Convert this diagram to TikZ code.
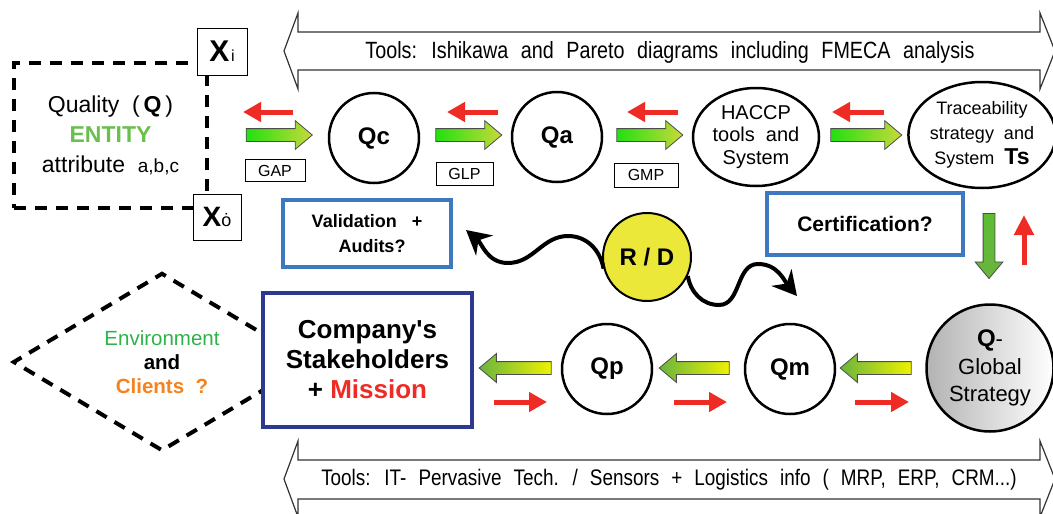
\documentclass[tikz,border=0pt]{standalone}
\usepackage{fontspec}
\setmainfont{Liberation Sans}
\newfontfamily\bandfont[FakeStretch=0.84,WordSpace=2.3]{Liberation Sans}
\usetikzlibrary{shapes.geometric,shapes.arrows,arrows.meta}

\definecolor{qred}{HTML}{EE2B24}
\definecolor{qblue}{HTML}{3E78BF}
\definecolor{qnavy}{HTML}{2B3A8F}
\definecolor{qlime}{HTML}{22E011}
\definecolor{qolive}{HTML}{C9D93A}
\definecolor{qleaf}{HTML}{6AB43E}
\definecolor{qyellow}{HTML}{EEF200}
\definecolor{qentity}{HTML}{6BBF4E}
\definecolor{qenv}{HTML}{2FB24A}
\definecolor{qorange}{HTML}{F5821F}
\definecolor{qsun}{HTML}{ECE83A}

\newcommand{\qfs}[2]{\fontsize{#1}{#2}\selectfont}

\tikzset{
  qcircle/.style={circle, draw, line width=2.5pt, minimum size=90pt, inner sep=0pt, font=\qfs{24}{26}\bfseries},
  qellipse/.style={ellipse, draw, line width=2.5pt, inner sep=0pt, align=center},
  rarrow/.style={qred, line width=5pt, -{Triangle[length=18pt,width=19pt]}},
  garrow/.style={single arrow, draw=black!70, line width=.8pt, inner sep=6pt, minimum height=66pt,
    single arrow head extend=8pt, single arrow tip angle=80},
  earrow/.style={garrow, left color=qlime, right color=qolive},
  warrow/.style={garrow, shape border rotate=180, left color=qleaf, middle color=qlime, right color=qyellow},
  tag/.style={draw, line width=.8pt, minimum width=60pt, minimum height=22pt, inner sep=0pt, font=\qfs{16}{18}},
  xbox/.style={draw, fill=white, line width=.8pt, inner sep=0pt},
  bluebox/.style={draw=qblue, line width=3.5pt, fill=white, align=center, inner sep=0pt},
  wave/.style={line width=4pt, -{Stealth[length=24pt,width=26pt]}},
  band/.style={draw=black!80, line width=1.2pt, fill=white},
  dashbox/.style={draw, line width=4pt, dash pattern=on 12pt off 9pt, inner sep=0pt, align=center},
}

\begin{document}
\begin{tikzpicture}[x=1pt,y=-1pt]
\useasboundingbox (0,0) rectangle (1053,514);

% tool bands
\draw[band] (284,51) -- (298,13) -- (298,32) -- (1040,32) -- (1040,13) -- (1055,51) -- (1040,89)
  -- (1040,70) -- (298,70) -- (298,89) -- cycle;
\node (toolsup) at (670,52) {\bandfont\qfs{23.5}{24}Tools: Ishikawa and Pareto diagrams including FMECA analysis};
\draw[band] (284,479) -- (298,441) -- (298,460) -- (1040,460) -- (1040,441) -- (1055,479) -- (1040,517)
  -- (1040,499) -- (298,499) -- (298,517) -- cycle;
\node (toolsdown) at (669,480) {\bandfont\qfs{22.5}{24}Tools: IT- Pervasive Tech. / Sensors + Logistics info ( MRP, ERP, CRM...)};

% quality entity
\node[dashbox, minimum width=193pt, minimum height=145pt, font=\qfs{23}{30}] (quality) at (110.5,135.5)
  {Quality\ \ (\,\textbf{Q}\,)\\\textcolor{qentity}{\textbf{ENTITY}}\\attribute\ \ {\qfs{19}{20}a,b,c}};
\node[xbox, minimum width=50pt, minimum height=47pt] (xin) at (222,51.5) {{\qfs{30}{30}\bfseries X}\,{\qfs{16}{16}i}};
\node[xbox, minimum width=48pt, minimum height=46pt] (xout) at (217,217) {{\qfs{28}{28}\bfseries X}{\qfs{18}{18}ȯ}};

% top chain
\draw[rarrow] (293,112) -- (243,112);
\node[earrow] (gap) at (275.5,135) {};
\node[tag] (gaptag) at (275,170.5) {GAP};
\node[qcircle] (qc) at (374,138) {Qc};
\draw[rarrow] (498,112) -- (447,112);
\node[earrow] (glp) at (465,135) {};
\node[tag, minimum width=57pt, minimum height=23pt] (glptag) at (464.5,173.5) {GLP};
\node[qcircle] (qa) at (557,137) {Qa};
\draw[rarrow] (678,112) -- (627,112);
\node[earrow] (gmp) at (646,135) {};
\node[tag, minimum width=64pt, minimum height=24pt] (gmptag) at (646,175) {GMP};
\node[qellipse, minimum width=126pt, minimum height=98pt, font=\qfs{20}{22.5}] (haccp) at (756,137)
  {HACCP\\tools\ \ and\\System};
\draw[rarrow] (884,112) -- (832,112);
\node[earrow, minimum height=71pt] (hts) at (862.5,135) {};
\node[qellipse, minimum width=146pt, minimum height=106pt, font=\qfs{18}{25}] (trace) at (982,135)
  {Traceability\\strategy\ \ and\\System\ \ {\qfs{23}{25}\bfseries Ts}};

% middle
\node[bluebox, minimum width=196pt, minimum height=62pt, font=\qfs{21}{24}\bfseries] (cert) at (865,224) {Certification?};
\node[bluebox, minimum width=168pt, minimum height=67pt, font=\qfs{18}{25}\bfseries] (valid) at (367,233.5)
  {Validation\ \ \ +\\\ \ Audits?};
\node[garrow, shape border rotate=270, minimum height=65pt, inner sep=5.5pt, top color=qleaf!80!qlime, bottom color=qleaf] (down) at (989,242.5) {};
\draw[rarrow, -{Triangle[length=20pt,width=19pt]}] (1024,265) -- (1024,215);
\node[circle, draw, fill=qsun, line width=2pt, minimum size=88pt, font=\qfs{24}{26}\bfseries] (rd) at (647,257) {R / D};
\draw[wave] (rd.195) to[out=100,in=0] (568,236) to[out=180,in=0] (508,263) to[out=180,in=-40] (466,230);
\draw[wave] (rd.-25) to[out=-80,in=180] (719,305) to[out=0,in=180] (758,264) to[out=0,in=130] (797,296);

% bottom chain
\node[diamond, dashbox, minimum width=298pt, minimum height=165pt, font=\qfs{20.5}{24}] (env) at (162,362)
  {\textcolor{qenv}{Environment}\\\textbf{and}\\\textcolor{qorange}{\textbf{Clients\ \ ?}}};
\node[draw=qnavy, line width=4pt, fill=white, minimum width=209pt, minimum height=134pt, align=center,
  font=\qfs{26}{30}\bfseries] (company) at (367.5,360) {Company\textquotesingle s\\Stakeholders\\+ \textcolor{qred}{Mission}};
\node[warrow, minimum height=72pt] (pc) at (519,368) {};
\draw[rarrow] (494,402) -- (547,402);
\node[qcircle] (qp) at (607,369) {Qp};
\node[warrow, minimum height=70pt] (mp) at (698,368) {};
\draw[rarrow] (674,402) -- (727,402);
\node[qcircle] (qm) at (790,369) {Qm};
\node[warrow, minimum height=71pt] (gm) at (879.5,368) {};
\draw[rarrow] (855,402) -- (909,402);
\node[circle, draw, line width=2.5pt, left color=black!30, right color=white, minimum size=127pt, inner sep=0pt,
  align=center, font=\qfs{22}{27.5}] (global) at (990,368) {{\qfs{24}{27.5}\bfseries Q}-\\Global\\Strategy};
\end{tikzpicture}
\end{document}
